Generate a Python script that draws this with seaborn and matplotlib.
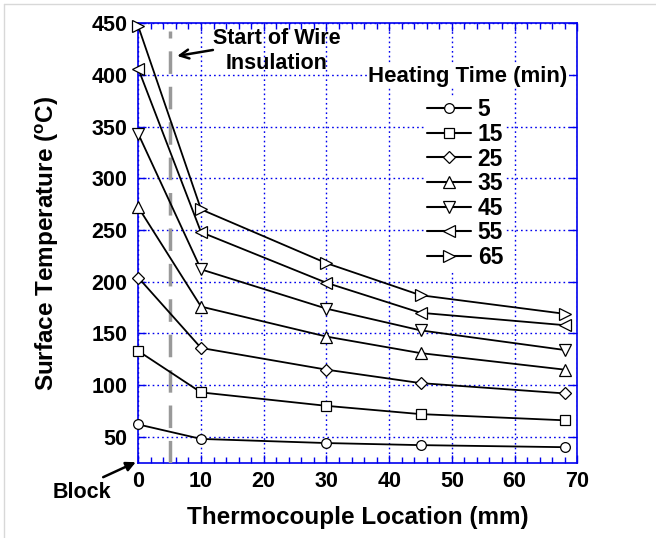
import matplotlib
matplotlib.use("Agg")
import matplotlib.pyplot as plt
import seaborn as sns
import pandas as pd
from matplotlib.lines import Line2D
from matplotlib.ticker import MultipleLocator

# ---- data ----
locations = [0, 10, 30, 45, 68]
heating_times = ["5", "15", "25", "35", "45", "55", "65"]
t5 = [62, 48, 44, 42, 40]
t15 = [133, 93, 80, 72, 66]
t25 = [204, 136, 115, 102, 92]
t35 = [272, 176, 147, 131, 115]
t45 = [343, 212, 174, 153, 134]
t55 = [406, 248, 199, 170, 158]
t65 = [447, 270, 218, 187, 169]
series = [t5, t15, t25, t35, t45, t55, t65]
markers = ["o", "s", "D", "^", "v", "<", ">"]
y_ticks = [50, 100, 150, 200, 250, 300, 350, 400, 450]
x_ticks = [0, 10, 20, 30, 40, 50, 60, 70]
insulation_x = 5.1

sns.set_theme(style="white")
plt.rcParams["font.family"] = ["Liberation Sans", "DejaVu Sans"]
plt.rcParams["font.weight"] = "bold"
plt.rcParams["text.color"] = "black"
plt.rcParams["axes.labelcolor"] = "black"
plt.rcParams["xtick.color"] = "black"
plt.rcParams["ytick.color"] = "black"
plt.rcParams["mathtext.fontset"] = "custom"
plt.rcParams["mathtext.rm"] = "Liberation Sans:bold"
plt.rcParams["mathtext.bf"] = "Liberation Sans:bold"

fig = plt.figure(figsize=(6.56, 5.38), dpi=100)
ax = fig.add_axes([138.3 / 656, 1 - 462.7 / 538, 439 / 656, 439.4 / 538])

rows = []
for ht, vals in zip(heating_times, series):
    for x, v in zip(locations, vals):
        rows.append({"loc": x, "temp": v, "time": ht})
df = pd.DataFrame(rows)


def msz(m):
    return 7 if m in ("o", "s") else (6.5 if m == "D" else 9)


blue = "#0000ee"
for ht, m in zip(heating_times, markers):
    sns.lineplot(data=df[df["time"] == ht], x="loc", y="temp", ax=ax,
                 color="black", lw=1.3, marker=m, markersize=msz(m),
                 markerfacecolor="white", markeredgecolor="black",
                 markeredgewidth=0.9, zorder=5, legend=False, clip_on=False)

# dashed insulation line
ax.plot([insulation_x, insulation_x], [25, 443], color="#999999", lw=2.5,
        dashes=(6.5, 3.7), zorder=3)

ax.set_xlim(0, 70)
ax.set_ylim(25, 450)
ax.set_xticks(x_ticks)
ax.set_yticks(y_ticks)
ax.xaxis.set_minor_locator(MultipleLocator(2))
ax.grid(True, which="major", color=blue, linestyle=(0, (1.2, 2.2)), lw=1.0, zorder=1)

for s in ax.spines.values():
    s.set_color(blue)
    s.set_linewidth(1.2)

ax.tick_params(axis="both", which="both", direction="in", color=blue,
               labelsize=15.5, labelcolor="black")
ax.tick_params(axis="x", which="major", top=True, bottom=True, length=6, width=1, pad=6)
ax.tick_params(axis="x", which="minor", top=True, bottom=True, length=4, width=1)
ax.tick_params(axis="y", which="major", left=True, right=True, length=6, width=1, pad=8)
for lab in ax.get_xticklabels() + ax.get_yticklabels():
    lab.set_fontweight("bold")

ax.set_xlabel("Thermocouple Location (mm)", fontsize=17.5, fontweight="bold", color="black")
ax.set_ylabel(r"Surface Temperature ($^{\mathbf{o}}$C)", fontsize=17.5, fontweight="bold",
              color="black")
ax.xaxis.set_label_coords(0.5, -0.099)
ax.yaxis.set_label_coords(-0.176, 0.5)

# legend (entries) with white background, title as separate text
handles = [Line2D([0], [0], color="black", lw=1.5, marker=m, markersize=msz(m),
                  markerfacecolor="white", markeredgecolor="black", markeredgewidth=0.9)
           for m in markers]
leg = ax.legend(handles, heating_times, loc="upper left",
                bbox_to_anchor=((425 - 138.3) / 439, 1 - (96 - 23.3) / 439.4),
                frameon=True, facecolor="white", edgecolor="none", framealpha=1,
                fancybox=False, prop={"size": 16.5, "weight": "bold"},
                handlelength=1.9, labelspacing=0.07, handletextpad=0.3,
                borderaxespad=0, borderpad=0.1, labelcolor="black")
leg.set_zorder(6)
ax.text((468 - 138.3) / 439, 1 - (76 - 23.3) / 439.4, "Heating Time (min)",
        transform=ax.transAxes, ha="center", va="center", fontsize=16,
        fontweight="bold", color="black", zorder=6,
        bbox=dict(facecolor="white", edgecolor="none", pad=1))

# annotations
ax.text(22.1, 423.2, "Start of Wire\nInsulation", ha="center", va="center",
        fontsize=15.5, fontweight="bold", linespacing=1.25, color="black", zorder=7)
ax.annotate("", xy=(6.2, 418.4), xytext=(11.9, 424.2),
            arrowprops=dict(arrowstyle="->", color="black", lw=1.8,
                            shrinkA=0, shrinkB=0, mutation_scale=16),
            annotation_clip=False, zorder=7)
ax.annotate("", xy=(-0.4, 25.5), xytext=(-5.6, 11),
            arrowprops=dict(arrowstyle="-|>", color="black", lw=1.8,
                            shrinkA=0, shrinkB=0, mutation_scale=14),
            annotation_clip=False)
ax.text(-9.0, -4, "Block", ha="center", va="center", fontsize=15.5,
        fontweight="bold", color="black", clip_on=False)

# light border on top & left
fig.add_artist(Line2D([4 / 656, 4 / 656], [0, 1 - 4 / 538], transform=fig.transFigure,
                      color="#d8d8d8", lw=1))
fig.add_artist(Line2D([4 / 656, 1], [1 - 4 / 538, 1 - 4 / 538], transform=fig.transFigure,
                      color="#d8d8d8", lw=1))

fig.savefig("out.png", dpi=100)
